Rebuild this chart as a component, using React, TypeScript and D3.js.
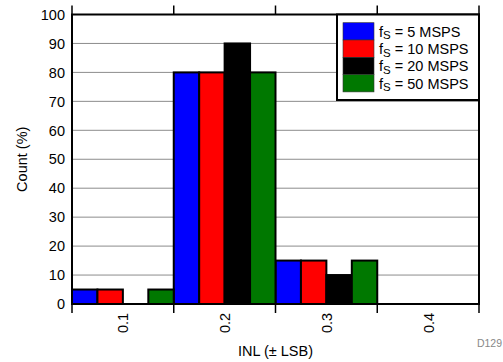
import React from "react";
import * as d3 from "d3";

const bins = ["0.1", "0.2", "0.3", "0.4"];
const seriesNames = ["5 MSPS", "10 MSPS", "20 MSPS", "50 MSPS"];
const seriesColors = ["#0000ff", "#ff0000", "#000000", "#007800"];
const s5 = [5, 80, 15, 0];
const s10 = [5, 80, 15, 0];
const s20 = [0, 90, 10, 0];
const s50 = [5, 80, 15, 0];
const seriesValues = [s5, s10, s20, s50];
const yTicks = [0, 10, 20, 30, 40, 50, 60, 70, 80, 90, 100];

const W = 503, H = 362;
const L = 72, R = 479, T = 14.5, B = 304;
const FS = 14.5;

export default function App() {
  const x = d3.scaleBand<string>().domain(bins).range([L, R]).padding(0);
  const xi = d3.scaleBand<number>().domain(d3.range(4)).range([0, x.bandwidth()]).padding(0);
  const y = d3.scaleLinear().domain([0, 100]).range([B, T]);
  const font = "'Liberation Sans', Arial, sans-serif";
  const boundaries = [...bins.map((b) => x(b)!), R];
  return (
    <svg width={W} height={H} style={{ position: "absolute", left: 0, top: 0 }} fontFamily={font}>
      <rect x={0} y={0} width={W} height={H} fill="white" />
      {yTicks.slice(1, -1).map((t) => (
        <line key={t} x1={L} x2={R} y1={y(t)} y2={y(t)} stroke="#8c8c8c" strokeWidth={1} />
      ))}
      {seriesValues.map((vals, si) =>
        vals.map((v, bi) =>
          v > 0 ? (
            <rect
              key={si + "-" + bi}
              x={x(bins[bi])! + xi(si)!}
              y={y(v)}
              width={xi.bandwidth()}
              height={y(0) - y(v)}
              fill={seriesColors[si]}
              stroke="#000"
              strokeWidth={2}
            />
          ) : null
        )
      )}
      <rect x={L} y={T} width={R - L} height={B - T} fill="none" stroke="#000" strokeWidth={2} />
      {boundaries.map((bx, i) => (
        <g key={i}>
          <line x1={bx} x2={bx} y1={T - 9} y2={T} stroke="#000" strokeWidth={1.5} />
          <line x1={bx} x2={bx} y1={B} y2={B + 9} stroke="#000" strokeWidth={1.5} />
        </g>
      ))}
      {yTicks.map((t) => (
        <text key={t} x={65} y={y(t)} dy="0.36em" textAnchor="end" fontSize={FS} fill="#000">
          {t}
        </text>
      ))}
      {bins.map((b) => {
        const cx = x(b)! + x.bandwidth() / 2;
        return (
          <text key={b} transform={`translate(${cx + 5.5},323) rotate(-90)`} textAnchor="middle" fontSize={FS} fill="#000">
            {b}
          </text>
        );
      })}
      <text transform={`translate(27,${(T + B) / 2}) rotate(-90)`} textAnchor="middle" fontSize={FS} fill="#000">
        Count (%)
      </text>
      <text x={(L + R) / 2} y={356} textAnchor="middle" fontSize={FS} fill="#000">
        INL (± LSB)
      </text>
      <text x={502} y={347} textAnchor="end" fontSize={10.5} fill="#888">
        D129
      </text>
      <rect x={337} y={T} width={R - 337} height={100 - T} fill="white" stroke="#000" strokeWidth={2} />
      {seriesNames.map((n, i) => {
        const ry = 22.7 + i * 17.3;
        return (
          <g key={n}>
            <rect x={343} y={ry} width={31} height={17.3} fill={seriesColors[i]} stroke="#333" strokeWidth={0.6} />
            <text x={379} y={ry + 14} fontSize={FS} fill="#000">
              f<tspan fontSize={11.5} dy={2.5}>S</tspan>
              <tspan dy={-2.5}>{" = " + n}</tspan>
            </text>
          </g>
        );
      })}
    </svg>
  );
}
